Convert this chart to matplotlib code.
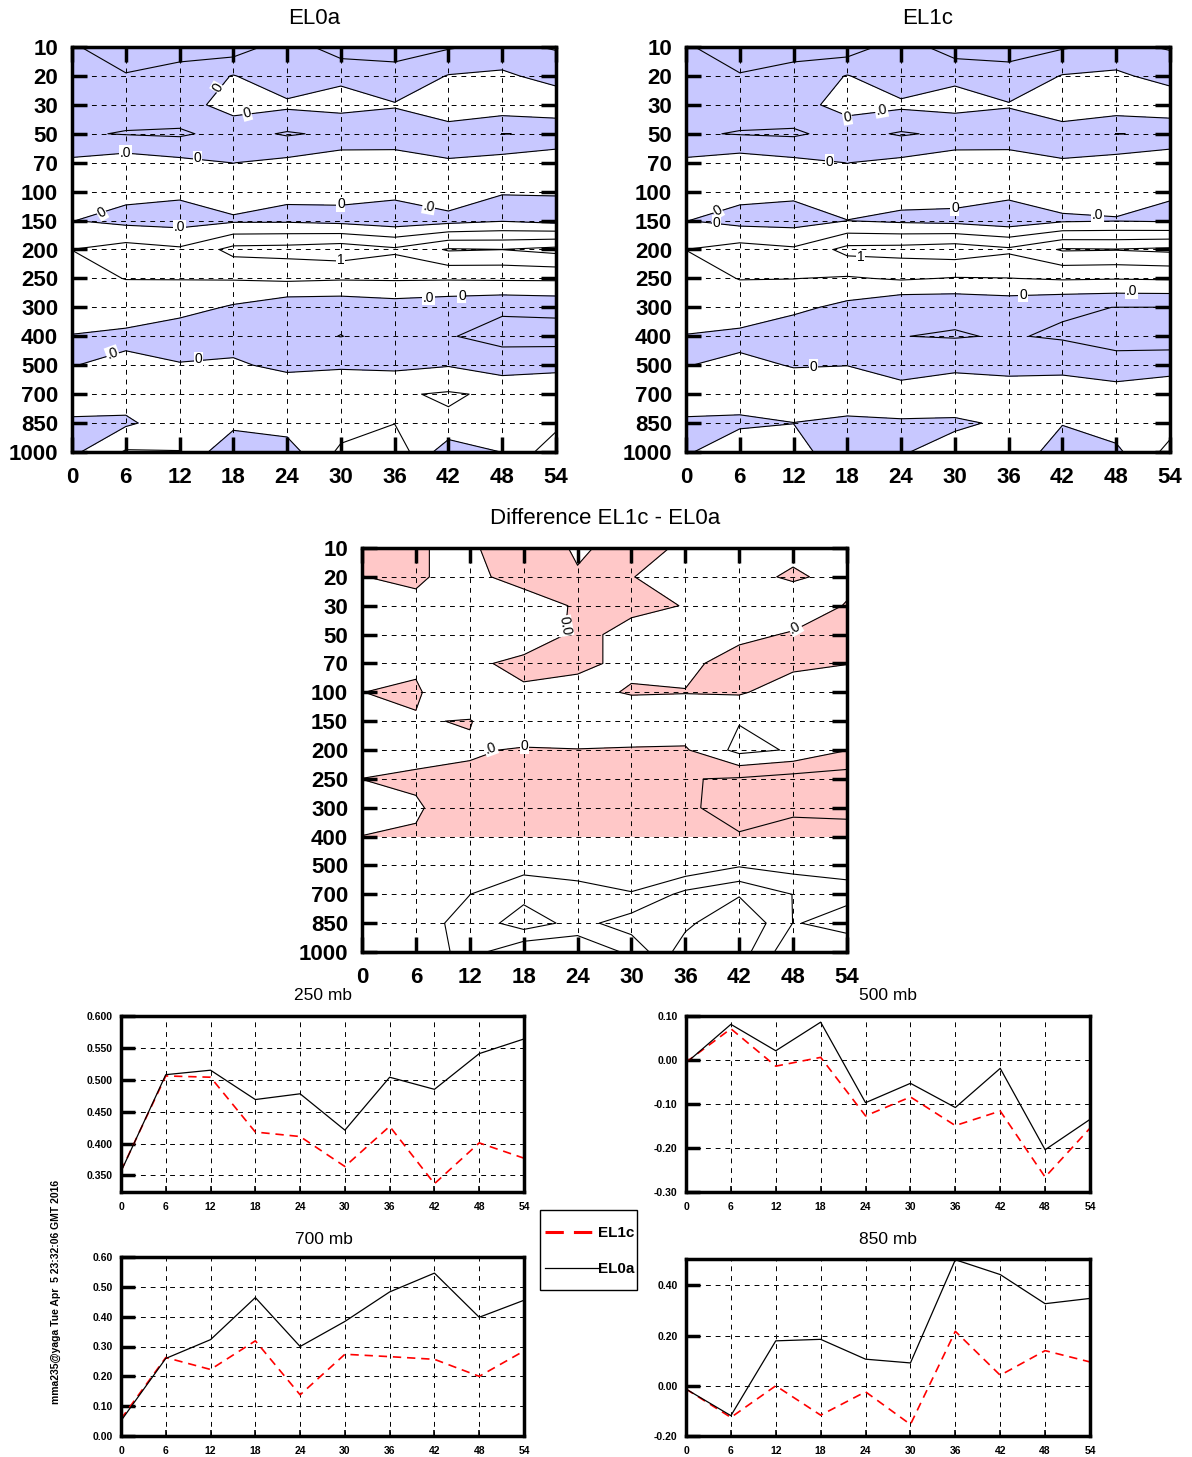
import numpy as np
import matplotlib
matplotlib.use("Agg")
import matplotlib.pyplot as plt
from matplotlib.lines import Line2D
from matplotlib.patches import Rectangle

plt.rcParams['font.family'] = ['Liberation Sans', 'DejaVu Sans']

# ---------------- data ----------------
hours = [0, 6, 12, 18, 24, 30, 36, 42, 48, 54]
pressure_labels = ['10', '20', '30', '50', '70', '100', '150', '200', '250',
                   '300', '400', '500', '700', '850', '1000']

# EL0a field: one row per pressure level (10 -> 1000 mb), one column per hour
el0a_rows = [
    [-0.09, -0.15, -0.13, -0.155, -0.045, -0.155, -0.13, -0.109, -0.08, -0.1077],
    [-0.06, -0.094, -0.072, 0.005, -0.075, -0.0176, -0.072, 0.005, 0.021, -0.0436],
    [-0.06, -0.06, -0.04, 0.04, 0.02, 0.0327, 0.007, 0.04, 0.06, 0.081],
    [-0.09, -0.105, -0.114, -0.065, -0.11, -0.08, -0.057, -0.029, -0.101, -0.095],
    [0.02, 0.052, 0.025, -0.0012, 0.024, 0.063, 0.047, 0.005, 0.041, 0.084],
    [0.05, 0.023, 0.0155, 0.06, 0.012, 0.0266, 0.0245, 0.069, 0.001, 0.0058],
    [0.002, -0.027, -0.038, -0.015, -0.015, -0.03, -0.06, -0.034, -0.008, -0.033],
    [0.1005, 0.14, 0.114, 0.231, 0.238, 0.26, 0.218, 0.31, 0.301, 0.33],
    [0.08, 0.1015, 0.103, 0.107, 0.119, 0.11, 0.112, 0.11, 0.114, 0.115],
    [0.04, 0.064, 0.04, -0.012, -0.067, -0.07, -0.048, -0.067, -0.086, -0.074],
    [-0.003, -0.025, -0.068, -0.05, -0.07, -0.102, -0.06, -0.094, -0.131, -0.144],
    [-0.003, 0.025, 0.008, 0.0176, -0.03, -0.01, -0.0225, -0.005, -0.047, -0.02],
    [0.057, 0.04, 0.05, 0.05, 0.09, 0.06, 0.09, 0.11, 0.084, 0.057],
    [-0.016, -0.015, 0.05, 0.03, 0.04, 0.053, 0.098, 0.087, 0.05, 0.072],
    [-0.022, 0.11, 0.1026, -0.09, -0.043, 0.12, 0.165, -0.066, 0.002, 0.165],
]

# EL1c field
el1c_rows = [
    [-0.09, -0.15, -0.13, -0.155, -0.045, -0.155, -0.13, -0.109, -0.08, -0.1077],
    [-0.06, -0.094, -0.072, 0.005, -0.075, -0.0176, -0.072, 0.005, 0.021, -0.0436],
    [-0.06, -0.06, -0.04, 0.04, 0.02, 0.0327, 0.007, 0.04, 0.06, 0.081],
    [-0.09, -0.105, -0.114, -0.065, -0.11, -0.08, -0.057, -0.029, -0.101, -0.095],
    [0.02, 0.052, 0.025, -0.0012, 0.024, 0.063, 0.047, 0.005, 0.041, 0.084],
    [0.05, 0.028, 0.0179, 0.04, 0.032, 0.04, 0.0245, 0.042, 0.033, 0.0066],
    [0.002, -0.033, -0.038, -0.001, -0.018, -0.029, -0.06, -0.014, -0.005, -0.014],
    [0.1005, 0.14, 0.114, 0.231, 0.238, 0.257, 0.218, 0.31, 0.305, 0.32],
    [0.08, 0.1015, 0.1015, 0.09, 0.111, 0.094, 0.098, 0.11, 0.105, 0.11],
    [0.04, 0.0715, 0.025, -0.027, -0.087, -0.083, -0.065, -0.09, -0.101, -0.101],
    [-0.003, -0.028, -0.071, -0.05, -0.099, -0.105, -0.094, -0.11, -0.14, -0.14],
    [-0.003, 0.022, -0.005, -0.001, -0.0433, -0.03, -0.03, -0.033, -0.06, -0.055],
    [0.057, 0.04, 0.0506, 0.049, 0.04, 0.085, 0.049, 0.064, 0.045, 0.0897],
    [-0.016, -0.016, -0.001, -0.016, -0.007, -0.02, 0.02, 0.005, 0.047, 0.06],
    [-0.011, 0.064, 0.04, -0.068, -0.01, 0.05, 0.08, -0.058, -0.02, 0.13],
]

# Difference EL1c - EL0a field
diff_rows = [
    [0.03, 0.005, -0.015, 0.065, -0.0133, 0.034, -0.0146, -0.03, -0.0194, -0.03],
    [-0.001, 0.01, -0.03, 0.0456, 0.0089, 0.002, -0.03, -0.023, 0.01, -0.023],
    [-0.03, -0.014, -0.05, -0.063, 0.0138, 0.017, -0.0023, -0.04, -0.05, 0.005],
    [-0.03, -0.03, -0.05, -0.07, 0.021, -0.0237, -0.03, -0.02, 0.0075, 0.03],
    [-0.03, -0.0122, -0.0226, 0.03, 0.02, -0.0226, -0.02, 0.0356, 0.02, 0.002],
    [-0.0005, 0.01, -0.073, -0.017, -0.034, 0.01, 0.003, 0.01, -0.047, -0.05],
    [-0.03, -0.006, 0.005, -0.09, -0.05, -0.09, -0.06, -0.095, -0.05, -0.05],
    [-0.03, -0.0406, -0.0117, 0.01, 0.002, 0.01, 0.01, -0.13, -0.09, -0.003],
    [0.0005, 0.02, 0.02, 0.05, 0.05, 0.05, 0.095, 0.11, 0.14, 0.15],
    [-0.03, -0.015, 0.08, 0.05, 0.05, 0.05, 0.08, 0.15, 0.12, 0.12],
    [0.001, 0.0128, 0.05, 0.05, 0.05, 0.05, 0.06, 0.09, 0.059, 0.07],
    [0.05, 0.05, 0.08, 0.0655, 0.07, 0.07, 0.021, 0.09, 0.058, 0.007],
    [0.05, 0.06, 0.099, 0.17, 0.126, 0.103, 0.229, 0.29, 0.198, 0.193],
    [0.05, 0.06, 0.135, 0.253, 0.165, 0.252, 0.275, 0.402, 0.198, 0.211],
    [0.05, 0.03, 0.14, 0.01, 0.014, 0.122, 0.358, 0.35, 0.12, 0.18],
]
diff_shaded_levels = 11   # shading drawn for the 10..400 mb levels only

contour_levels = [-0.1, 0.0, 0.1, 0.2, 0.3, 0.4]

# time series at single levels
p250_el0a = [0.356, 0.508, 0.515, 0.469, 0.478, 0.421, 0.504, 0.485, 0.541, 0.564]
p250_el1c = [0.357, 0.506, 0.504, 0.418, 0.411, 0.364, 0.427, 0.337, 0.401, 0.377]
p500_el0a = [-0.007, 0.081, 0.021, 0.086, -0.097, -0.053, -0.108, -0.019, -0.204, -0.135]
p500_el1c = [-0.005, 0.071, -0.014, 0.006, -0.127, -0.084, -0.149, -0.116, -0.266, -0.155]
p700_el0a = [0.051, 0.260, 0.323, 0.464, 0.300, 0.384, 0.483, 0.546, 0.398, 0.455]
p700_el1c = [0.057, 0.263, 0.223, 0.319, 0.138, 0.274, 0.266, 0.257, 0.200, 0.285]
p850_el0a = [-0.013, -0.119, 0.179, 0.185, 0.106, 0.091, 0.502, 0.443, 0.327, 0.348]
p850_el1c = [-0.013, -0.126, 0.000, -0.117, -0.024, -0.154, 0.217, 0.042, 0.140, 0.095]

series_names = ['EL1c', 'EL0a']

# contour labels: (text, hour, level index, rotation)
el0a_labels = [('0', 16.3, 1.42, 60), ('0', 19.5, 2.29, 15), ('.0', 6, 3.67, 0),
               ('0', 14, 3.85, 0), ('0', 3.3, 5.73, 30), ('.0', 12, 6.23, 0),
               ('0', 30, 5.44, 0), ('.0', 39.8, 5.52, -10), ('1', 30, 7.38, 0),
               ('.0', 39.8, 8.66, 0), ('0', 43.5, 8.6, 0), ('.0', 4.5, 10.6, 20),
               ('0', 14.1, 10.8, 0)]
el1c_labels = [('0', 18, 2.43, 10), ('.0', 21.8, 2.18, 10), ('0', 16, 3.96, 0),
               ('0', 3.5, 5.65, 30), ('0', 3.4, 6.08, 0), ('0', 30, 5.58, 0),
               ('.0', 45.9, 5.82, 0), ('1', 19.5, 7.27, 0), ('0', 37.6, 8.56, 0),
               ('.0', 49.7, 8.43, 0), ('0', 14.2, 11.05, 0)]
diff_labels = [('0.0', 22.6, 2.7, -80), ('.0', 48.2, 2.75, 30),
               ('.0', 14.3, 6.93, 20), ('0', 18.1, 6.87, 0)]

BLUE = '#c8c8ff'
PINK = '#ffc8c8'

W, H = 1192, 1457
fig = plt.figure(figsize=(W / 100, H / 100), dpi=100)


def fig_rect(left, top, right, bottom):
    return [left / W, 1 - bottom / H, (right - left) / W, (bottom - top) / H]


def contour_panel(rect, rows, color, positive_fill, labels, shade_rows=None):
    ax = fig.add_axes(rect)
    Z = np.array(rows, dtype=float)
    X = np.array(hours, dtype=float)
    Y = np.arange(len(pressure_labels))
    Zf = Z.copy()
    if shade_rows is not None:
        Zf[shade_rows:, :] = np.nan
    Zf = np.ma.masked_invalid(Zf)
    if positive_fill:
        ax.contourf(X, Y, Zf, levels=[0, 10], colors=[color], zorder=1)
    else:
        ax.contourf(X, Y, Zf, levels=[-10, 0], colors=[color], zorder=1)
    ax.contour(X, Y, Z, levels=contour_levels, colors='k', linewidths=0.8,
               linestyles='solid', zorder=3)
    for s, x, y, r in labels:
        ax.text(x, y, s, fontsize=10, rotation=r, ha='center', va='center',
                zorder=5, bbox=dict(facecolor='white', edgecolor='none', pad=0.5))
    ax.set_xlim(0, 54)
    ax.set_ylim(len(pressure_labels) - 1, 0)
    ax.set_xticks(hours)
    ax.set_xticklabels([str(h) for h in hours])
    ax.set_yticks(Y)
    ax.set_yticklabels(pressure_labels)
    ax.set_axisbelow(False)
    ax.grid(True, color='k', linestyle=(0, (5, 5)), linewidth=0.7, zorder=2)
    ax.tick_params(direction='in', length=11, width=2.5, top=True, right=True,
                   labelsize=16)
    ax.tick_params(axis='y', pad=10)
    ax.tick_params(axis='x', pad=11)
    for lab in ax.get_xticklabels() + ax.get_yticklabels():
        lab.set_fontweight('bold')
    for sp in ax.spines.values():
        sp.set_linewidth(2.5)
        sp.set_zorder(6)
    return ax


contour_panel(fig_rect(72, 47, 556, 452), el0a_rows, BLUE, False, el0a_labels)
contour_panel(fig_rect(686, 47, 1170, 452), el1c_rows, BLUE, False, el1c_labels)
contour_panel(fig_rect(362, 548, 847, 952), diff_rows, PINK, True, diff_labels,
              shade_rows=diff_shaded_levels)

fig.text(314 / W, 1 - 18 / H, 'EL0a', fontsize=16, ha='center', va='center')
fig.text(928 / W, 1 - 18 / H, 'EL1c', fontsize=16, ha='center', va='center')
fig.text(605 / W, 1 - 518 / H, 'Difference EL1c - EL0a', fontsize=16,
         ha='center', va='center')

RED_DASH = (0, (6, 3.3))


def line_panel(rect, el0a, el1c, ylim, yticks, fmt, title, title_xy):
    ax = fig.add_axes(rect)
    ax.plot(hours, el1c, color='red', linestyle=(0, (5, 3.5)), linewidth=1.2, zorder=4)
    ax.plot(hours, el0a, color='black', linestyle='-', linewidth=0.9, zorder=4)
    ax.set_xlim(0, 54)
    ax.set_ylim(*ylim)
    ax.set_xticks(hours)
    ax.set_xticklabels([str(h) for h in hours])
    ax.set_yticks(yticks)
    ax.set_yticklabels([fmt % v for v in yticks])
    ax.set_axisbelow(False)
    ax.grid(True, color='k', linestyle=(0, (5, 5)), linewidth=0.7, zorder=2)
    ax.tick_params(axis='y', direction='in', length=10, width=2.5, labelsize=7.5, pad=6)
    ax.tick_params(axis='x', direction='in', length=4, width=1.2, labelsize=7.5, pad=7)
    for lab in ax.get_xticklabels() + ax.get_yticklabels():
        lab.set_fontweight('bold')
    for sp in ax.spines.values():
        sp.set_linewidth(2.5)
        sp.set_zorder(6)
    fig.text(title_xy[0] / W, 1 - title_xy[1] / H, title, fontsize=12.5,
             ha='center', va='center')
    return ax


line_panel(fig_rect(121, 1016, 524, 1192), p250_el0a, p250_el1c, (0.324, 0.600),
           [0.35, 0.40, 0.45, 0.50, 0.55, 0.60], '%.3f', '250 mb', (323, 995))
line_panel(fig_rect(686, 1016, 1090, 1192), p500_el0a, p500_el1c, (-0.30, 0.10),
           [-0.30, -0.20, -0.10, 0.00, 0.10], '%.2f', '500 mb', (888, 995))
line_panel(fig_rect(121, 1257, 524, 1436), p700_el0a, p700_el1c,
           (0.0, 0.60), [0.0, 0.1, 0.2, 0.3, 0.4, 0.5, 0.6], '%.2f',
           '700 mb', (324, 1239))
line_panel(fig_rect(686, 1259, 1090, 1436), p850_el0a, p850_el1c, (-0.20, 0.505),
           [-0.20, 0.00, 0.20, 0.40], '%.2f', '850 mb', (888, 1240))

# legend box (drawn in figure coordinates)
fig.add_artist(Rectangle((540 / W, 1 - 1290 / H), 97 / W, 80 / H,
                         transform=fig.transFigure, facecolor='white',
                         edgecolor='black', linewidth=1.0, zorder=10))
fig.add_artist(Line2D([545 / W, 594 / W], [1 - 1232 / H, 1 - 1232 / H],
                      transform=fig.transFigure, color='red', linestyle=RED_DASH,
                      linewidth=2.2, zorder=11))
fig.add_artist(Line2D([545 / W, 598 / W], [1 - 1268 / H, 1 - 1268 / H],
                      transform=fig.transFigure, color='black', linestyle='-',
                      linewidth=0.9, zorder=11))
fig.text(598 / W, 1 - 1233 / H, series_names[0], fontsize=11, fontweight='bold',
         ha='left', va='center', zorder=12)
fig.text(598 / W, 1 - 1269 / H, series_names[1], fontsize=11, fontweight='bold',
         ha='left', va='center', zorder=12)

fig.text(56 / W, 1 - 1292 / H, 'mma235@yaga Tue Apr  5 23:32:06 GMT 2016',
         rotation=90, fontsize=7.5, fontweight='bold', ha='center', va='center')

fig.savefig('out.png', dpi=100)
